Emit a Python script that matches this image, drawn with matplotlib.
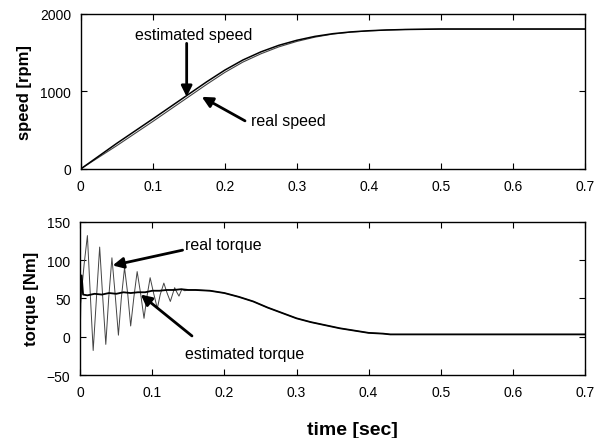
import matplotlib
matplotlib.use("Agg")
import matplotlib.pyplot as plt

plt.rcParams['font.family'] = ['Liberation Sans', 'DejaVu Sans']

# speed response (rpm)
t_speed = [0, 0.05, 0.1, 0.15, 0.175, 0.2, 0.225, 0.25, 0.275, 0.3, 0.325, 0.35, 0.375,
           0.4, 0.425, 0.45, 0.5, 0.6, 0.7]
speed_est = [0, 330, 645, 965, 1125, 1275, 1405, 1510, 1595, 1660, 1710, 1745, 1768,
             1783, 1793, 1799, 1805, 1805, 1805]
speed_real = [0, 300, 612, 932, 1092, 1245, 1378, 1485, 1575, 1645, 1700, 1740, 1765,
              1781, 1792, 1799, 1805, 1805, 1805]

# torque response (Nm)
t_torque_real = [0, 0.001, 0.0055, 0.010, 0.014, 0.018, 0.0225, 0.027, 0.031, 0.0355, 0.0395, 0.044,
                 0.0485, 0.053, 0.057, 0.0615, 0.066, 0.070, 0.0745, 0.079, 0.084, 0.0885, 0.0925,
                 0.097, 0.102, 0.107, 0.111, 0.116, 0.1205, 0.125, 0.128, 0.131, 0.134, 0.137,
                 0.141, 0.145, 0.15, 0.16, 0.18, 0.20, 0.22, 0.24, 0.26, 0.28, 0.30, 0.32, 0.34,
                 0.36, 0.38, 0.40, 0.42, 0.43, 0.5, 0.6, 0.7]
torque_real = [0, 50, 95, 132, 55, -18, 50, 117, 55, -10, 50, 103,
               55, 2, 50, 90, 55, 14, 52, 85, 55, 24, 52,
               77, 56, 37, 55, 70, 57, 46, 55, 64, 58, 53,
               62, 60, 61, 61, 60, 57, 52, 46, 38, 31, 24, 19, 15,
               11, 8, 5, 4, 3, 3, 3, 3]

t_torque_est = [0, 0.002, 0.004, 0.01, 0.02, 0.03, 0.04, 0.05, 0.06, 0.07, 0.08, 0.09, 0.10,
                0.11, 0.12, 0.13, 0.14, 0.15, 0.16, 0.18, 0.20, 0.22, 0.24, 0.26, 0.28, 0.30,
                0.32, 0.34, 0.36, 0.38, 0.40, 0.42, 0.43, 0.5, 0.6, 0.7]
torque_est = [45, 80, 55, 54, 56, 55, 57, 56, 58, 57, 58, 58, 60,
              60, 61, 61, 62, 61, 61, 60, 57, 52, 46, 38, 31, 24,
              19, 15, 11, 8, 5, 4, 3, 3, 3, 3]

x_ticks = [0, 0.1, 0.2, 0.3, 0.4, 0.5, 0.6, 0.7]
x_labels = ['0', '0.1', '0.2', '0.3', '0.4', '0.5', '0.6', '0.7']

fig = plt.figure(figsize=(6.03, 4.39), dpi=100)
ax1 = fig.add_axes([0.134, 0.613, 0.836, 0.353])
ax2 = fig.add_axes([0.133, 0.1435, 0.837, 0.349])

arrow = dict(arrowstyle='-|>', lw=2, color='black', mutation_scale=16, shrinkA=0, shrinkB=0)

# top: speed
ax1.plot(t_speed, speed_real, color='#444444', lw=0.8)
ax1.plot(t_speed, speed_est, color='black', lw=1.1)
ax1.set_xlim(0, 0.7)
ax1.set_ylim(0, 2000)
ax1.set_yticks([0, 1000, 2000])
ax1.set_ylabel('speed [rpm]', fontsize=12, fontweight='bold', labelpad=6)
ax1.annotate('', xy=(0.147, 930), xytext=(0.147, 1620), arrowprops=arrow)
ax1.text(0.157, 1730, 'estimated speed', fontsize=11.5, ha='center', va='center')
ax1.annotate('', xy=(0.168, 930), xytext=(0.228, 620), arrowprops=arrow)
ax1.text(0.236, 620, 'real speed', fontsize=11.5, ha='left', va='center')

# bottom: torque
ax2.plot(t_torque_real, torque_real, color='#444444', lw=0.7)
ax2.plot(t_torque_est, torque_est, color='black', lw=1.3)
ax2.set_xlim(0, 0.7)
ax2.set_ylim(-50, 150)
ax2.set_yticks([-50, 0, 50, 100, 150])
ax2.set_ylabel('torque [Nm]', fontsize=12, fontweight='bold', labelpad=6)
ax2.set_xlabel('time [sec]', fontsize=14, fontweight='bold', labelpad=12)
ax2.xaxis.set_label_coords(0.54, -0.3)
ax2.annotate('', xy=(0.045, 93), xytext=(0.142, 113), arrowprops=arrow)
ax2.text(0.146, 121, 'real torque', fontsize=11.5, ha='left', va='center')
ax2.annotate('', xy=(0.084, 55), xytext=(0.155, 1), arrowprops=arrow)
ax2.text(0.146, -22, 'estimated torque', fontsize=11.5, ha='left', va='center')

for ax in (ax1, ax2):
    ax.set_xticks(x_ticks)
    ax.set_xticklabels(x_labels)
    ax.tick_params(direction='in', top=True, right=True, length=4, labelsize=10, pad=7)
    for s in ax.spines.values():
        s.set_linewidth(1.0)

fig.savefig('out.png', dpi=100)
